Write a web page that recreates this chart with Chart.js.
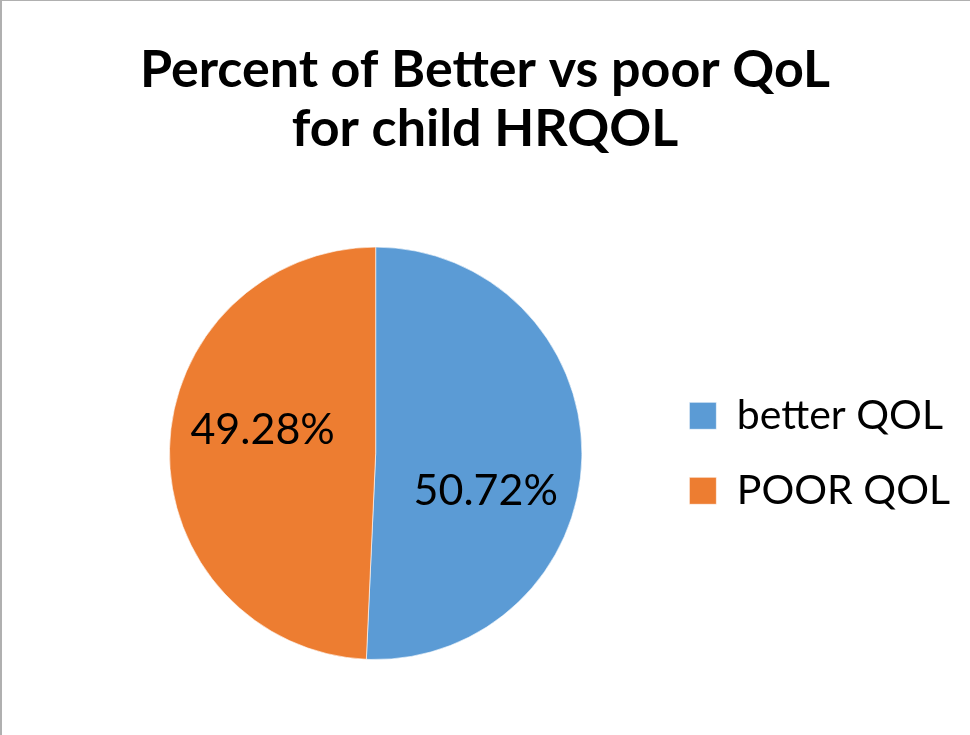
<!DOCTYPE html>
<html>
<head>
<meta charset="utf-8">
<script src="https://cdn.jsdelivr.net/npm/chart.js@4"></script>
<style>
  body { margin: 0; background: #fff; }
  .wrap { position: relative; width: 970px; height: 735px; }
  .frame {
    position: absolute;
    left: 0; top: 0; right: 0; bottom: 0;
    border-left: 2px solid #b0b0b0;
    border-top: 1px solid #b0b0b0;
    pointer-events: none;
  }
</style>
</head>
<body>
<div class="wrap">
  <canvas id="qolChart"></canvas>
  <div class="frame"></div>
</div>
<script>
const categories = ["better QOL", "POOR QOL"];
const percentValues = [50.72, 49.28];
const sliceColors = ["#5B9BD5", "#ED7D31"];

// draws "50.72%" style labels inside each slice
const sliceLabels = {
  id: "sliceLabels",
  afterDatasetsDraw(chart) {
    const ctx = chart.ctx;
    const meta = chart.getDatasetMeta(0);
    const nudge = [[7, 35], [-10, -21]]; // excel best-fit puts them off the mid-angle
    ctx.save();
    ctx.font = "43px Lato";
    ctx.fillStyle = "#000";
    ctx.textAlign = "center";
    ctx.textBaseline = "middle";
    meta.data.forEach((arc, i) => {
      const p = arc.tooltipPosition();
      ctx.fillText(percentValues[i].toFixed(2) + "%", p.x + nudge[i][0], p.y + nudge[i][1]);
    });
    ctx.restore();
  },
};

// left padding pushes the pie right, but the title should stay centred on the whole canvas
const fullWidthTitle = {
  id: "fullWidthTitle",
  afterLayout(chart) {
    const t = chart.titleBlock;
    if (!t) return;
    t.left = 0;
    t.right = chart.width;
    t.width = chart.width;
  },
};

document.addEventListener("DOMContentLoaded", () => {
  const ctx = document.getElementById("qolChart").getContext("2d");

  new Chart(ctx, {
    type: "pie",
    data: {
      labels: categories,
      datasets: [
        {
          data: percentValues,
          backgroundColor: sliceColors,
          borderColor: "rgba(255,255,255,0.6)",
          borderWidth: 1,
        },
      ],
    },
    options: {
      responsive: true,
      maintainAspectRatio: false,
      animation: false,
      layout: {
        padding: { top: 0, bottom: 75, left: 96, right: 10 },
      },
      plugins: {
        title: {
          display: true,
          text: ["Percent of Better vs poor QoL", "for child HRQOL"],
          color: "#000",
          font: { family: "Lato", size: 52, weight: "bold", lineHeight: 1.15 },
          padding: { top: 40, bottom: 87 },
        },
        legend: {
          position: "right",
          fullSize: false,
          labels: {
            color: "#000",
            font: { family: "Lato", size: 41 },
            boxWidth: 27,
            boxHeight: 27,
            padding: 34,
          },
        },
        tooltip: { enabled: false },
      },
    },
    plugins: [sliceLabels, fullWidthTitle],
  });
});
</script>
</body>
</html>
